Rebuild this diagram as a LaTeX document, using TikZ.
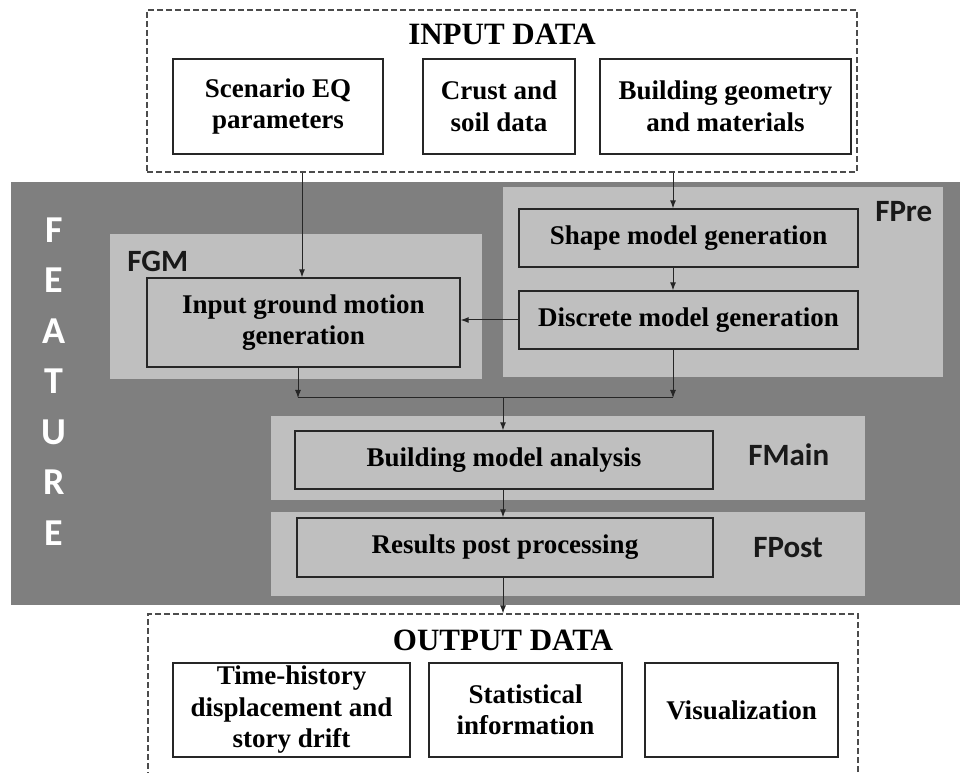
\documentclass[tikz,border=0pt]{standalone}
\usepackage{fontspec}
\setmainfont{Liberation Serif}
\newfontfamily\calfont{Carlito}
\usetikzlibrary{fit,arrows.meta}
\definecolor{band}{RGB}{127,127,127}
\definecolor{panel}{RGB}{191,191,191}
\begin{document}
\begin{tikzpicture}[x=0.75pt,y=-0.75pt,
  boxtext/.style={font=\bfseries\fontsize{20.25}{23.6}\selectfont, align=center, inner sep=0pt},
  databox/.style={draw=black!85, line width=1pt, fill=white, inner sep=0pt},
  stepbox/.style={draw=black!85, line width=1pt, inner sep=0pt},
  groupbox/.style={draw=black!70, line width=0.8pt, dash pattern=on 4.5pt off 2.25pt, inner sep=0pt},
  bandbox/.style={fill=band, inner sep=0pt},
  panelbox/.style={fill=panel, inner sep=0pt},
  title/.style={font=\bfseries\fontsize{23.25}{28}\selectfont, inner sep=0pt, anchor=base},
  tag/.style={font=\calfont\bfseries\fontsize{23.25}{28}\selectfont, text=black!90, inner sep=0pt, anchor=base west},
  letter/.style={font=\calfont\bfseries\fontsize{28.5}{34}\selectfont, text=white, inner sep=0pt},
  flow/.style={line width=0.75pt, draw=black!85, -{Latex[length=6pt,width=4.5pt]}},
  wire/.style={line width=0.75pt, draw=black!85},
]
\useasboundingbox (0,0) rectangle (960,773);

% input group
\node[groupbox, fit={(147,10) (857,172)}] (inbox) {};
\node[title] (intitle) at (502,45) {INPUT DATA};
\node[databox, fit={(173,59) (383,154)}] (scen) {};
\node[databox, fit={(423,59) (575,154)}] (crust) {};
\node[databox, fit={(600,59) (851,154)}] (bgeo) {};
\node[boxtext] (scentxt) at (scen.center) {Scenario EQ\\parameters};
\node[boxtext] (crusttxt) at (crust.center) {Crust and\\soil data};
\node[boxtext] (bgeotxt) at (bgeo.center) {Building geometry\\and materials};

% FEATURE band and its modules
\node[bandbox, fit={(11,182) (960,605)}] (feature) {};
\foreach \ch [count=\i from 0] in {F,E,A,T,U,R,E}
  \node[letter] (ltr\i) at (54,{230+50.5*\i}) {\ch};

\node[panelbox, fit={(503,187) (943,377)}] (fpre) {};
\node[panelbox, fit={(110,234) (482,379)}] (fgm) {};
\node[panelbox, fit={(271,416) (865,500)}] (fmain) {};
\node[panelbox, fit={(271,512) (865,596)}] (fpost) {};

\node[tag] (fgmtag) at (127,272) {FGM};
\node[tag] (fpretag) at (875,222) {FPre};
\node[tag] (fmaintag) at (748,465) {FMain};
\node[tag] (fposttag) at (753,557) {FPost};

\node[stepbox, fit={(147,278) (460,367)}] (igm) {};
\node[stepbox, fit={(519,209) (858,267)}] (shape) {};
\node[stepbox, fit={(519,291) (858,349)}] (disc) {};
\node[stepbox, fit={(295,431) (713,489)}] (bma) {};
\node[stepbox, fit={(297,518) (713,577)}] (rpp) {};
\node[boxtext] (igmtxt) at (igm.center) {Input ground motion\\generation};
\node[boxtext] (shapetxt) at (shape.center) {Shape model generation};
\node[boxtext] (disctxt) at (disc.center) {Discrete model generation};
\node[boxtext] (bmatxt) at (bma.center) {Building model analysis};
\node[boxtext] (rpptxt) at (rpp.center) {Results post processing};

% output group
\node[groupbox, fit={(148,614) (858,800)}] (outbox) {};
\node[title] (outtitle) at (503,650) {OUTPUT DATA};
\node[databox, fit={(173,663) (410,757)}] (thist) {};
\node[databox, fit={(429,663) (622,757)}] (stat) {};
\node[databox, fit={(645,663) (838,757)}] (vis) {};
\node[boxtext] (thisttxt) at (thist.center) {Time-history\\displacement and\\story drift};
\node[boxtext] (stattxt) at (stat.center) {Statistical\\information};
\node[boxtext] (vistxt) at (vis.center) {Visualization};

% connector columns and junction
\coordinate (lc) at (298,0);
\coordinate (rc) at (673,0);
\coordinate (mc) at (503,0);
\coordinate (ic) at (302,0);
\coordinate (jl) at (298,398);
\coordinate (jr) at (673,398);
\coordinate (jm) at (503,398);

\draw[flow] (inbox.south -| ic) -- (igm.north -| ic);
\draw[flow] (inbox.south -| rc) -- (shape.north -| rc);
\draw[flow] (shape.south -| rc) -- (disc.north -| rc);
\draw[flow] (disc.west) -- (igm.east |- disc.west);
\draw[flow] (igm.south -| lc) -- (jl);
\draw[flow] (disc.south -| rc) -- (jr);
\draw[wire] (jl) -- (jr);
\draw[flow] (jm) -- (bma.north -| mc);
\draw[flow] (bma.south -| mc) -- (rpp.north -| mc);
\draw[flow] (rpp.south -| mc) -- (outbox.north -| mc);
\end{tikzpicture}
\end{document}
